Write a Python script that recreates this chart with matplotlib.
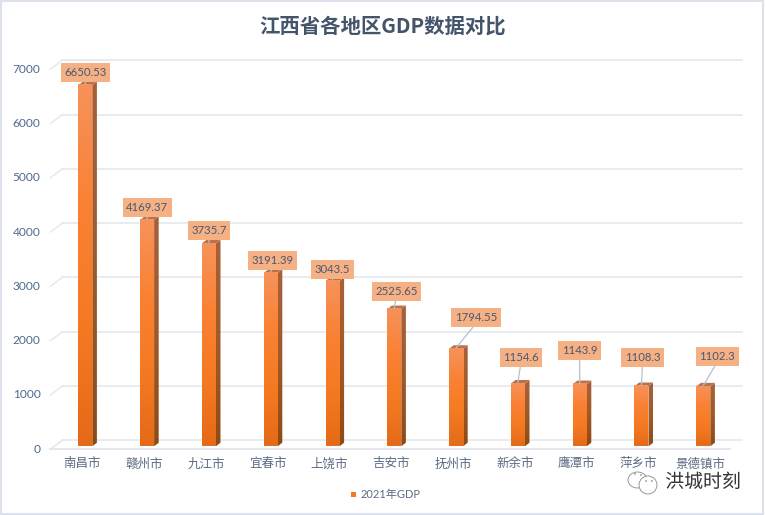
import matplotlib
matplotlib.use("Agg")
import matplotlib.pyplot as plt
import numpy as np
from matplotlib.colors import LinearSegmentedColormap
from matplotlib.patches import Ellipse, Polygon, Rectangle
from matplotlib.path import Path
from matplotlib.transforms import ScaledTranslation
import matplotlib.patheffects as pe

plt.rcParams['font.family'] = ['Lato', 'Noto Sans CJK SC', 'DejaVu Sans']

# dados
cidades = ["南昌市", "赣州市", "九江市", "宜春市", "上饶市", "吉安市", "抚州市",
           "新余市", "鹰潭市", "萍乡市", "景德镇市"]
gdp = [6650.53, 4169.37, 3735.7, 3191.39, 3043.5, 2525.65, 1794.55,
       1154.6, 1143.9, 1108.3, 1102.3]
rotulos = ["6650.53", "4169.37", "3735.7", "3191.39", "3043.5", "2525.65", "1794.55",
           "1154.6", "1143.9", "1108.3", "1102.3"]
yticks = [0, 1000, 2000, 3000, 4000, 5000, 6000, 7000]

# deslocamento das caixas em relacao ao topo da barra (px)
caixa_dx = [0, 0, 0, 2, 0, 2, 20, 3, 0, 1, 14]
caixa_dy = [12, 11, 12, 12, 11, 17, 30, 25, 33, 28, 29]

W, H = 765, 515
X0, DX = 85.3, 61.8      # px da primeira categoria, px por categoria
Y0, SY = 446.3, 0.0543   # px do valor 0, px por unidade
PX_X = 1 / DX
PX_Y = 1 / SY

COR_GRADE = "#E4E7EE"
COR_TEXTO = "#5B6B84"


# caixa do rotulo: altura fixa de 19 px, pouca folga nos lados
def caixa(x0, y0, w, h, mutation_size):
    meio = y0 + h / 2
    xa, xb = x0 - 3.5, x0 + w + 3.5
    ya, yb = meio - 9.5, meio + 9.5
    return Path([(xa, ya), (xb, ya), (xb, yb), (xa, yb), (xa, ya)], closed=True)


fig = plt.figure(figsize=(W / 100, H / 100), dpi=100, facecolor="white")
esq = X0 - 0.5 * DX
topo = Y0 - 7000 * SY
ax = fig.add_axes([esq / W, 1 - Y0 / H, 11 * DX / W, (Y0 - topo) / H])
ax.patch.set_alpha(0)
for s in ax.spines.values():
    s.set_visible(False)

frente = LinearSegmentedColormap.from_list("f", ["#F6925A", "#FA8133", "#F47A22", "#E56A18"])
lateral = LinearSegmentedColormap.from_list("l", ["#A9603A", "#A05A28", "#8F4A14"])
grad = np.linspace(0, 1, 128).reshape(-1, 1)

larg = 14 * PX_X
prof_x = 4.6 * PX_X
prof_y = 3.6 * PX_Y

# grade: parede do fundo e perspectiva
gx0 = -0.5 + 8 * PX_X
gx1 = 10.5 + 8 * PX_X
for v in yticks:
    yb = v + 6 * PX_Y
    ax.plot([gx0, gx1], [yb, yb], color=COR_GRADE, lw=1.2, clip_on=False, zorder=1)
    if v > 0:
        ax.plot([gx0 - 12 * PX_X, gx0], [v - 3 * PX_Y, yb], color=COR_GRADE, lw=1, clip_on=False, zorder=1)
# chao
ax.plot([gx0 - 12 * PX_X, gx0], [-3 * PX_Y, 6 * PX_Y], color=COR_GRADE, lw=1.2, clip_on=False, zorder=1)
ax.plot([gx0 - 12 * PX_X, gx1 - 12 * PX_X], [-3 * PX_Y, -3 * PX_Y], color=COR_GRADE, lw=1.4, clip_on=False, zorder=1)

for i, v in enumerate(gdp):
    l = i - larg / 2
    r = i + larg / 2
    # lateral
    im = ax.imshow(grad, cmap=lateral, extent=[r, r + prof_x, 0, v + prof_y], aspect="auto", zorder=3)
    p = Polygon([(r, 0), (r + prof_x, prof_y), (r + prof_x, v + prof_y), (r, v)], transform=ax.transData,
                fc="none", ec="none")
    ax.add_patch(p)
    im.set_clip_path(p)
    # topo
    ax.add_patch(Polygon([(l, v), (r, v), (r + prof_x, v + prof_y), (l + prof_x, v + prof_y)],
                         fc="#B8734C", ec="none", zorder=3))
    # frente
    ax.imshow(grad, cmap=frente, extent=[l, r, 0, v], aspect="auto", zorder=4)
    ax.plot([l, r], [0, 0], color="#F8C9A4", lw=0.8, zorder=5)

ax.set_xlim(-0.5, 10.5)
ax.set_ylim(0, 7000)

for i, v in enumerate(gdp):
    a = ax.annotate(rotulos[i], xy=(i, v + 1 * PX_Y),
                    xytext=(caixa_dx[i] * 0.72, caixa_dy[i] * 0.72), textcoords="offset points",
                    ha="center", va="center", fontsize=8.2, color="#4A5872", zorder=7,
                    bbox=dict(boxstyle="square,pad=0.3", fc="#F5B184", ec="none"),
                    arrowprops=dict(arrowstyle="-", color="#B4C0CE", lw=0.9, shrinkA=0, shrinkB=0, relpos=(0.5, 0)))
    a.get_bbox_patch().set_boxstyle(caixa)

ax.set_xticks(range(len(cidades)))
ax.set_xticklabels(cidades, fontsize=9, color=COR_TEXTO)
ax.set_yticks(yticks)
ax.set_yticklabels([str(v) for v in yticks], fontsize=8.6, color="#4F6A8C")
ax.tick_params(axis="both", length=0)
ax.tick_params(axis="x", pad=8)
ax.tick_params(axis="y", pad=10)
desloc = ScaledTranslation(0, -2 / 100, fig.dpi_scale_trans)
for t in ax.get_yticklabels():
    t.set_transform(t.get_transform() + desloc)
desloc_x = ScaledTranslation(-3 / 100, 0, fig.dpi_scale_trans)
for t in ax.get_xticklabels():
    t.set_transform(t.get_transform() + desloc_x)

# titulo e legenda
fig.text(382.5 / W, 1 - 26 / H, "江西省各地区GDP数据对比", ha="center", va="center",
         fontsize=14.7, fontweight="bold", color="#44546A",
         family=['Noto Sans CJK SC', 'DejaVu Sans'])
fig.add_artist(Rectangle((351 / W, 1 - 497 / H), 5 / W, 5 / H, transform=fig.transFigure,
                         fc="#F47A22", ec="none"))
fig.text(361 / W, 1 - 494.5 / H, "2021年GDP", ha="left", va="center", fontsize=8, color=COR_TEXTO)

# moldura
fig.add_artist(Rectangle((1 / W, 1 / H), 762 / W, 513.5 / H, transform=fig.transFigure,
                         fc="none", ec="#DDE1EB", lw=1.5, zorder=0))

# marca d'agua
fig.text(703 / W, 1 - 482 / H, "洪城时刻", ha="center", va="center", fontsize=13.6, color="#333333",
         family=['Noto Sans CJK SC', 'DejaVu Sans'], zorder=10,
         path_effects=[pe.withStroke(linewidth=2.5, foreground="white")])
for cx, cy, a, b in [(637.5, 480, 19, 16), (648, 485, 18, 18)]:
    fig.add_artist(Ellipse((cx / W, 1 - cy / H), a / W, b / H, transform=fig.transFigure,
                           fc="white", ec="#888888", lw=0.6, zorder=10))
for cx, cy in [(635, 474), (641, 475), (646, 481), (652, 481)]:
    fig.add_artist(Ellipse((cx / W, 1 - cy / H), 1.6 / W, 1.6 / H, transform=fig.transFigure,
                           fc="#777777", ec="none", zorder=11))

fig.savefig("out.png", dpi=100)
